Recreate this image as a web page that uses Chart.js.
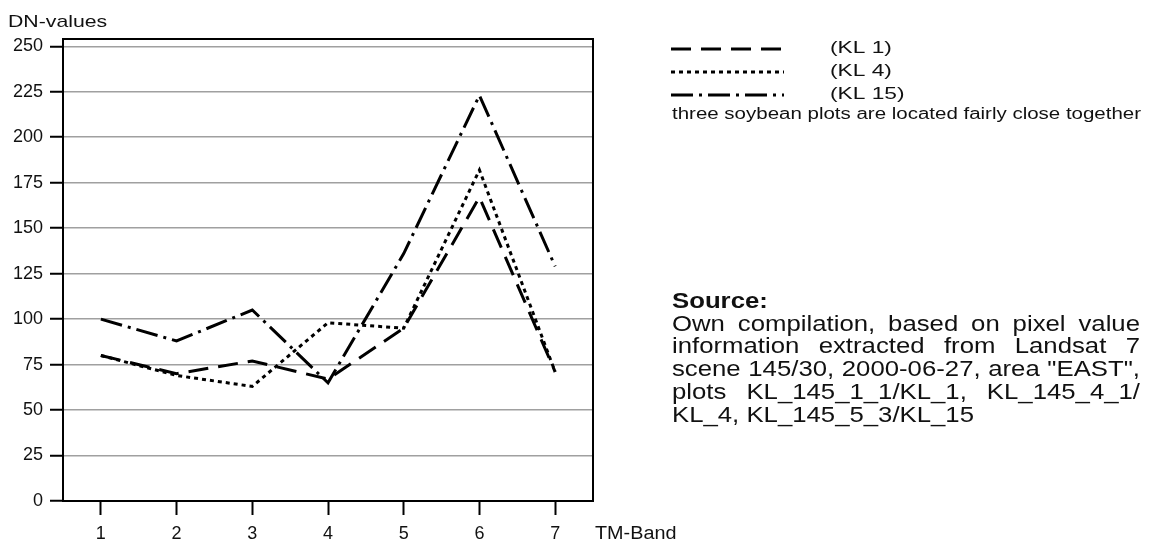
<!DOCTYPE html>
<html>
<head>
<meta charset="utf-8">
<script src="https://cdn.jsdelivr.net/npm/chart.js@4.4.1/dist/chart.umd.min.js"></script>
<style>
  html, body { margin: 0; padding: 0; background: #fff; }
  #wrap { position: relative; width: 1150px; height: 545px; overflow: hidden; }
  #source {
    position: absolute; left: 672px; top: 290px; width: 400px;
    transform: scaleX(1.17); transform-origin: 0 0;
    font-family: 'Liberation Sans', Arial, sans-serif; font-size: 22px;
    line-height: 22.7px; color: #111;
  }
  #source div { white-space: nowrap; }
  #source .j { text-align: justify; text-align-last: justify; }
</style>
</head>
<body>
<div id="wrap">
  <canvas id="chart" width="1150" height="545"></canvas>
  <div id="source">
    <div><b>Source:</b></div>
    <div class="j">Own compilation, based on pixel value</div>
    <div class="j">information extracted from Landsat 7</div>
    <div class="j">scene 145/30, 2000-06-27, area "EAST",</div>
    <div class="j">plots KL_145_1_1/KL_1, KL_145_4_1/</div>
    <div>KL_4, KL_145_5_3/KL_15</div>
  </div>
</div>
<script>
// ---- data ----
const tmBands = ['1', '2', '3', '4', '5', '6', '7']
const kl1 = [80, 70, 77, 67, 95, 167, 71]
const kl4 = [80, 69, 63, 98, 95, 182, 71]
const kl15 = [100, 88, 105, 65, 136, 223, 129]
const seriesLabels = ['(KL 1)', '(KL 4)', '(KL 15)']
const yStep = 25
const yMax = 254

const FONT = "'Liberation Sans', Arial, sans-serif"

function stretchText(ctx, text, x, y, sx) {
  ctx.save()
  ctx.translate(x, y)
  ctx.scale(sx, 1)
  ctx.fillText(text, 0, 0)
  ctx.restore()
}

// box border, axis names, legend
const decorations = {
  id: 'decorations',
  afterDraw(chart) {
    const { ctx, chartArea: a } = chart
    ctx.save()
    ctx.strokeStyle = '#000'
    ctx.lineWidth = 2
    ctx.beginPath()
    ctx.moveTo(a.left, a.top)
    ctx.lineTo(a.right, a.top)
    ctx.lineTo(a.right, a.bottom)
    ctx.stroke()

    ctx.fillStyle = '#111'
    ctx.textBaseline = 'alphabetic'
    ctx.font = '17px ' + FONT
    stretchText(ctx, 'DN-values', 8, 27, 1.25)

    ctx.font = '18px ' + FONT
    stretchText(ctx, 'TM-Band', a.right + 2, 539, 1.1)

    // legend
    ctx.font = '16px ' + FONT
    chart.data.datasets.forEach((ds, i) => {
      const y = 49 + i * 23
      ctx.save()
      ctx.strokeStyle = ds.borderColor
      ctx.lineWidth = ds.borderWidth
      ctx.setLineDash(ds.borderDash)
      ctx.beginPath()
      ctx.moveTo(671, y)
      ctx.lineTo(784, y)
      ctx.stroke()
      ctx.restore()
      ctx.textBaseline = 'middle'
      stretchText(ctx, ds.label, 830, y, 1.42)
    })
    ctx.textBaseline = 'alphabetic'
    stretchText(ctx, 'three soybean plots are located fairly close together', 672, 119, 1.28)
    ctx.restore()
  },
}

const lineStyle = { borderColor: '#000', borderWidth: 3, pointRadius: 0, tension: 0, fill: false, borderCapStyle: 'butt' }

new Chart(document.getElementById('chart'), {
  type: 'line',
  data: {
    labels: tmBands,
    datasets: [
      { label: seriesLabels[0], data: kl1, borderDash: [20, 10], ...lineStyle },
      { label: seriesLabels[1], data: kl4, borderDash: [4, 4], ...lineStyle },
      { label: seriesLabels[2], data: kl15, borderDash: [22, 6, 3, 6], ...lineStyle },
    ],
  },
  options: {
    responsive: false,
    animation: false,
    layout: { padding: { top: 39, right: 557, left: 0, bottom: 0 } },
    plugins: { legend: { display: false }, tooltip: { enabled: false } },
    scales: {
      x: {
        offset: true,
        grid: { offset: false, drawOnChartArea: false, tickLength: 14, tickColor: '#000', tickWidth: 2 },
        border: { color: '#000', width: 2 },
        ticks: { color: '#111', font: { family: FONT, size: 18 }, padding: 8, maxRotation: 0 },
        afterFit: (s) => { s.height = 44 },
      },
      y: {
        min: 0,
        max: yMax,
        grid: {
          color: (c) => (c.tick && c.tick.value === 0 ? 'rgba(0,0,0,0)' : '#a0a0a0'),
          lineWidth: 1.5,
          tickLength: 13,
          tickColor: '#000',
          tickWidth: 2,
        },
        border: { color: '#000', width: 2 },
        ticks: { stepSize: yStep, includeBounds: false, color: '#111', font: { family: FONT, size: 18 }, padding: 7 },
        afterFit: (s) => { s.width = 63 },
      },
    },
  },
  plugins: [decorations],
})
</script>
</body>
</html>
